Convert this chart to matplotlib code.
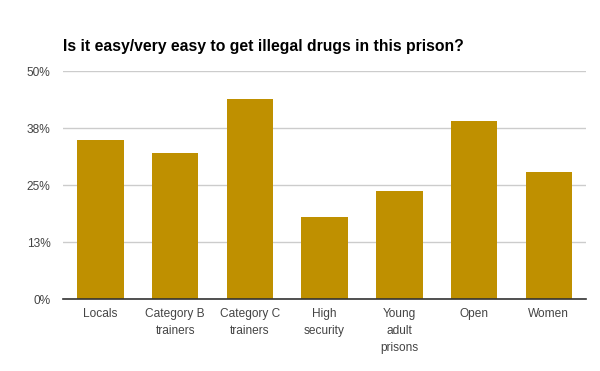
import matplotlib
matplotlib.use("Agg")
import matplotlib.pyplot as plt

categories = ["Locals", "Category B\ntrainers", "Category C\ntrainers", "High\nsecurity",
              "Young\nadult\nprisons", "Open", "Women"]
values = [35, 32, 44, 18, 23.8, 39, 28]
yticks = [0, 12.5, 25, 37.5, 50]
ytick_labels = ["0%", "13%", "25%", "38%", "50%"]

plt.rcParams['font.family'] = ['Liberation Sans', 'DejaVu Sans']

fig = plt.figure(figsize=(6, 3.71), dpi=100)
ax = fig.add_axes([0.105, 0.193, 0.872, 0.615])
x = range(len(categories))
ax.bar(x, values, width=0.62, color="#BF9000", zorder=3)
ax.set_xlim(-0.5, len(categories) - 0.5)
ax.set_ylim(0, 50)
ax.set_yticks(yticks)
ax.set_yticklabels(ytick_labels)
ax.set_xticks(list(x))
ax.set_xticklabels(categories, linespacing=1.55)
ax.tick_params(axis='both', length=0, labelsize=8.6, colors="#444444")
ax.tick_params(axis='y', pad=9)
ax.tick_params(axis='x', pad=6)
ax.yaxis.grid(True, color="#cccccc", linewidth=1, zorder=0)
for s in ["top", "right", "left"]:
    ax.spines[s].set_visible(False)
ax.spines["bottom"].set_color("#333333")
ax.spines["bottom"].set_linewidth(1.2)
ax.spines["bottom"].set_zorder(4)
fig.text(0.105, 0.876, "Is it easy/very easy to get illegal drugs in this prison?",
         fontsize=11.3, fontweight="bold", color="#000000", ha="left", va="center")
fig.savefig("out.png", dpi=100)
